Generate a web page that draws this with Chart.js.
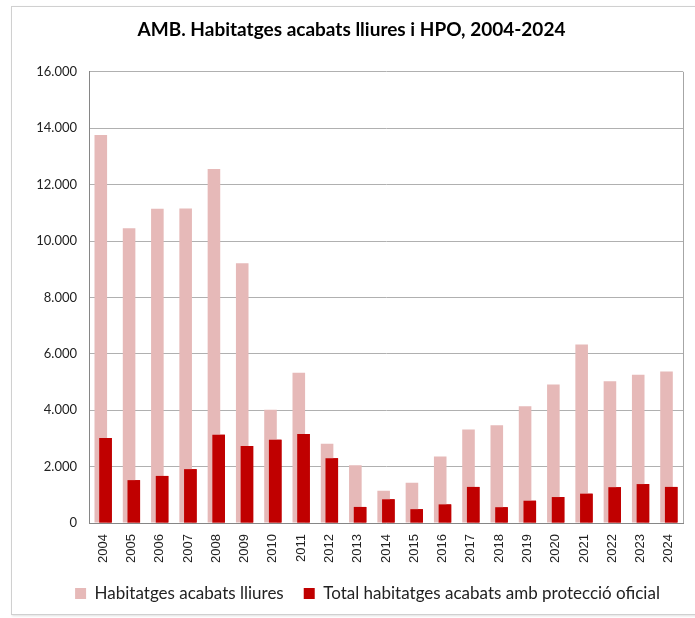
<!DOCTYPE html>
<html>
<head>
<meta charset="utf-8">
<script src="https://cdn.jsdelivr.net/npm/chart.js@4.4.1/dist/chart.umd.min.js"></script>
<style>
  html, body { margin: 0; padding: 0; background: #fff; }
  #wrap { position: relative; width: 695px; height: 618px; }
  #frame { position: absolute; left: 11px; top: 6px; width: 700px; height: 607px;
           border: 1px solid #d0d0d0; box-shadow: 1px 1px 2px #e0e0e0; }
  canvas { position: absolute; left: 0; top: 0; }
</style>
</head>
<body>
<div id="wrap">
  <div id="frame"></div>
  <canvas id="chart" width="695" height="618"></canvas>
</div>
<script>
const years = ['2004','2005','2006','2007','2008','2009','2010','2011','2012','2013','2014',
               '2015','2016','2017','2018','2019','2020','2021','2022','2023','2024'];
// habitatges acabats lliures
const lliures = [13760, 10450, 11140, 11150, 12550, 9210, 4020, 5330, 2810, 2050, 1140,
                 1430, 2360, 3320, 3470, 4140, 4910, 6330, 5030, 5260, 5370];
// total habitatges acabats amb protecció oficial
const hpo = [3010, 1520, 1670, 1910, 3130, 2730, 2950, 3160, 2300, 570, 840,
             490, 660, 1280, 560, 790, 920, 1040, 1270, 1380, 1280];
const yTicks = [0, 2000, 4000, 6000, 8000, 10000, 12000, 14000, 16000];

const fmt = v => String(v).replace(/\B(?=(\d{3})+(?!\d))/g, '.');

// red bars overlap the pink ones, so draw them again on top
const redOnTop = {
    id: 'redOnTop',
    afterLayout(chart) {
        // legend sits a bit right of centre in the original
        chart.legend.left += 16;
        chart.legend.right += 16;
    },
    afterDatasetsDraw(chart) {
        chart.getDatasetMeta(1).controller.draw();
        // right border of the plot area
        const a = chart.chartArea, ctx = chart.ctx;
        ctx.save();
        ctx.strokeStyle = '#a6a6a6';
        ctx.lineWidth = 1;
        ctx.beginPath();
        ctx.moveTo(Math.round(a.right) + 0.5, a.top);
        ctx.lineTo(Math.round(a.right) + 0.5, a.bottom);
        ctx.stroke();
        ctx.restore();
    }
};

new Chart(document.getElementById('chart'), {
    type: 'bar',
    data: {
        labels: years,
        datasets: [
            {
                label: 'Habitatges acabats lliures',
                data: lliures,
                backgroundColor: '#e6b9b8',
                borderWidth: 0
            },
            {
                label: 'Total habitatges acabats amb protecció oficial',
                data: hpo,
                backgroundColor: '#c00000',
                borderWidth: 0
            }
        ]
    },
    options: {
        responsive: false,
        animation: false,
        categoryPercentage: 0.332,
        barPercentage: 2.68,
        layout: { padding: { left: 20, right: 12, top: 0, bottom: 6 } },
        plugins: {
            title: {
                display: true,
                text: 'AMB. Habitatges acabats lliures i HPO, 2004-2024',
                color: '#000',
                font: { family: 'Lato', size: 19, weight: 'bold' },
                padding: { top: 18, bottom: 31 }
            },
            legend: {
                position: 'bottom',
                labels: {
                    color: '#222',
                    font: { family: 'Lato', size: 17 },
                    boxWidth: 11,
                    boxHeight: 11,
                    padding: 20
                }
            },
            tooltip: { enabled: false }
        },
        scales: {
            x: {
                grid: { display: false },
                border: { color: '#868686' },
                ticks: {
                    color: '#222',
                    font: { family: 'Liberation Sans', size: 13 },
                    minRotation: 90,
                    maxRotation: 90,
                    autoSkip: false
                },
                afterFit: s => { s.height = 42; }
            },
            y: {
                min: 0,
                max: 16000,
                afterBuildTicks: s => { s.ticks = yTicks.map(v => ({ value: v })); },
                grid: { color: '#b0b0b0', drawTicks: false },
                border: { color: '#868686' },
                ticks: {
                    color: '#222',
                    font: { family: 'Lato', size: 13 },
                    padding: 12,
                    callback: v => fmt(v)
                },
                afterFit: s => { s.width = 69; }
            }
        }
    },
    plugins: [redOnTop]
});
</script>
</body>
</html>
